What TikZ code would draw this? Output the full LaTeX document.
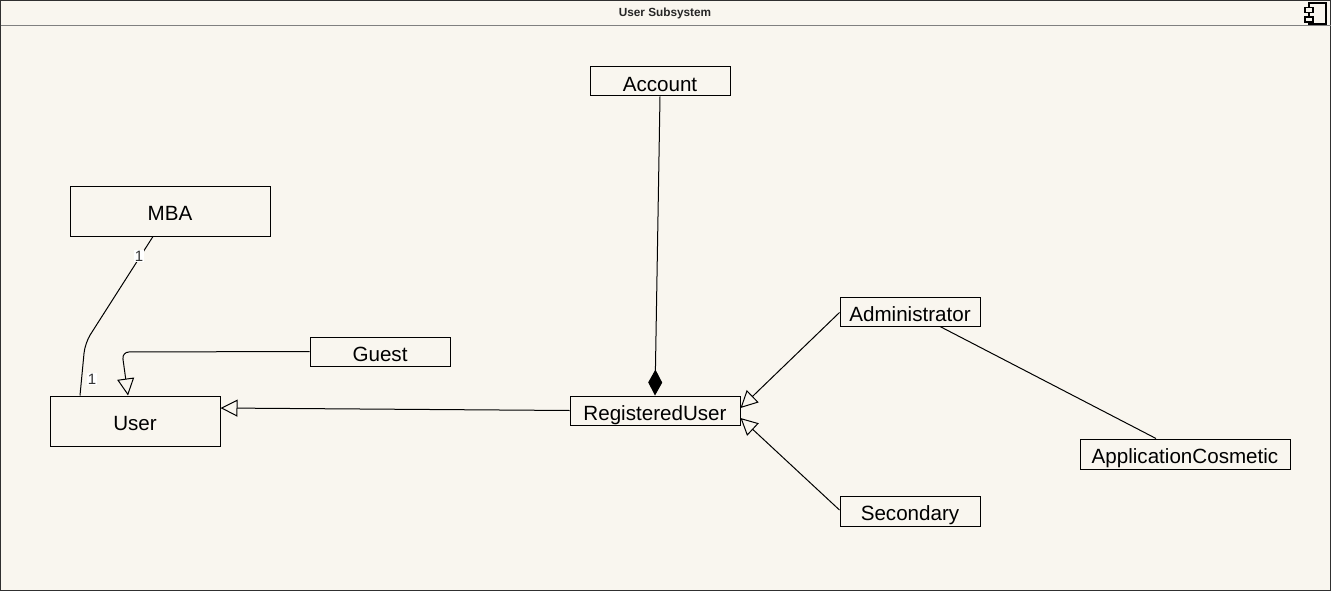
\documentclass[tikz,border=0pt]{standalone}
\usepackage{fontspec}
\setmainfont{Liberation Sans}
\usepackage{xcolor}
\usetikzlibrary{positioning, arrows.meta, calc}

\definecolor{fondo}{HTML}{F9F6EF}
\definecolor{borde}{HTML}{303030}

\begin{document}
\begin{tikzpicture}[
            x=1pt, y=-1pt,
            line width=1pt,
            clase/.style={draw, line width=1pt, inner sep=0pt, minimum height=29pt,
                text height=19.3pt, text depth=0pt,
                font=\fontsize{20.6}{24}\selectfont},
            hereda/.style={-{Triangle[open, length=17pt, width=17pt, line width=1pt]}},
            compone/.style={-{Diamond[length=26pt, width=14pt]}},
            mult/.style={fill=white, inner sep=1pt, text=black!80, font=\fontsize{15}{17}\selectfont}
        ]

        % --- Marco del subsistema ---
        \useasboundingbox (0,0) rectangle (1331,591);
        \fill[fondo] (0,0) rectangle (1331,591);
        \draw[borde] (0.5,0.5) rectangle (1330.5,590.5);
        \draw[gray] (0.5,26) -- (1330.5,26);
        \node[font=\fontsize{11.8}{14}\selectfont\bfseries, text=black!85] (titulo) at (665,13) {User Subsystem};

        % Icono de componente
        \draw[line width=1.2pt] (1309,3) rectangle (1326,24);
        \filldraw[fill=fondo, line width=1.2pt] (1305,7.5) rectangle (1313,12.5);
        \filldraw[fill=fondo, line width=1.2pt] (1305,17) rectangle (1313,22);

        % --- Clases ---
        \node[clase, minimum width=140pt] (account) at (660,81.5) {Account};
        \node[clase, minimum width=200pt, minimum height=50pt] (mba) at (170,211) {MBA};
        \node[clase, minimum width=140pt] (guest) at (380,351.5) {Guest};
        \node[clase, minimum width=170pt, minimum height=50pt] (user) at (135,421) {User};
        \node[clase, minimum width=170pt] (registrado) at (655,410.5) {RegisteredUser};
        \node[clase, minimum width=140pt] (admin) at (910,311.5) {Administrator};
        \node[clase, minimum width=140pt, minimum height=30pt] (secundario) at (910,511) {Secondary};
        \node[clase, minimum width=210pt, minimum height=30pt] (cosmetica) at (1185,454) {ApplicationCosmetic};

        % --- Asociaciones ---
        \draw[rounded corners=10pt] ([xshift=-17pt]mba.south) -- (85,343) -- ([xshift=-55pt]user.north);
        \node[mult] (multMba) at (139,256) {1};
        \node[mult] (multUser) at (92,379) {1};

        \draw (admin.south) ++(30,0) coordinate (adminPie)
            (adminPie) -- ([xshift=-29pt]cosmetica.north);

        % Composicion de la cuenta
        \draw[compone] (account.south) -- (registrado.north);

        % --- Generalizaciones ---
        \draw[hereda, rounded corners=7pt] (guest.west) -- (122,352) -- ([xshift=-7pt]user.north);
        \draw[hereda] (registrado.west) -- ([yshift=13pt]user.east);
        \draw[hereda] ([yshift=-1pt]admin.west) -- ([yshift=2.5pt]registrado.east);
        \draw[hereda] ([yshift=1pt]secundario.west) -- ([yshift=-7.5pt]registrado.east);

\end{tikzpicture}
\end{document}
